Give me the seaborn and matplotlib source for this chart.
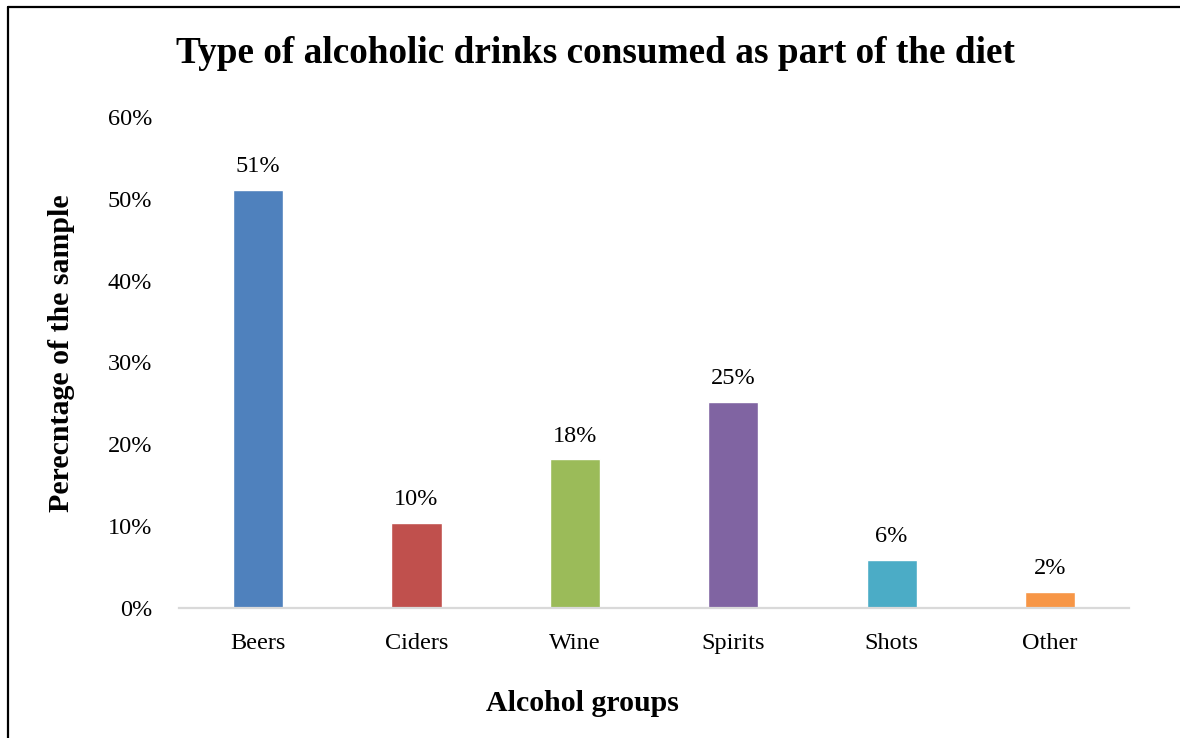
import matplotlib
matplotlib.use("Agg")
import matplotlib.pyplot as plt
from matplotlib.lines import Line2D
from matplotlib.ticker import PercentFormatter
import pandas as pd
import seaborn as sns

# Share of the sample consuming each drink type (%)
groups = ["Beers", "Ciders", "Wine", "Spirits", "Shots", "Other"]
shares = [51.1, 10.4, 18.2, 25.2, 5.9, 2.0]
colors = ["#4F81BD", "#C0504D", "#9BBB59", "#8064A2", "#4BACC6", "#F79646"]

df = pd.DataFrame({"group": groups, "share": shares})

sns.set_theme(style="white")
plt.rcParams["font.family"] = ["Liberation Serif", "DejaVu Serif"]
plt.rcParams["text.color"] = "black"
plt.rcParams["axes.labelcolor"] = "black"

fig = plt.figure(figsize=(11.8, 7.38), dpi=100)
ax = fig.add_axes([0.1517, 0.1762, 0.8051, 0.6653])

sns.barplot(data=df, x="group", y="share", hue="group", palette=colors,
            width=0.316, saturation=1, legend=False, ax=ax)

ax.set_xlim(-0.5, len(groups) - 0.5)
ax.set_ylim(0, 60)
ax.set_yticks(range(0, 61, 10))
ax.yaxis.set_major_formatter(PercentFormatter(decimals=0))

for c in ax.containers:
    ax.bar_label(c, labels=[f"{v:.0f}%" for v in c.datavalues],
                 padding=9, fontsize=17.5, color="black")

for side in ["top", "right", "left"]:
    ax.spines[side].set_visible(False)
ax.spines["bottom"].set_color("#D9D9D9")
ax.spines["bottom"].set_linewidth(1.6)

ax.tick_params(axis="both", length=0, labelsize=17.5, colors="black")
ax.tick_params(axis="y", pad=19.5)
ax.tick_params(axis="x", pad=18)

ax.set_xlabel("Alcohol groups", fontsize=21.5, fontweight="bold")
ax.set_ylabel("Perecntage of the sample", fontsize=21.5, fontweight="bold")
ax.xaxis.set_label_coords(0.425, -0.167)
ax.yaxis.set_label_coords(-0.110, 0.519)
fig.suptitle("Type of alcoholic drinks consumed as part of the diet",
             x=0.505, y=0.951, fontsize=26.8, fontweight="bold", color="black")

# Frame lines along the left and top edges
fig.add_artist(Line2D([8 / 1180, 8 / 1180], [0, 1 - 7 / 738],
                      transform=fig.transFigure, color="black", lw=1.6))
fig.add_artist(Line2D([8 / 1180, 1], [1 - 7 / 738, 1 - 7 / 738],
                      transform=fig.transFigure, color="black", lw=1.6))

fig.savefig("out.png", dpi=100, facecolor="white")
